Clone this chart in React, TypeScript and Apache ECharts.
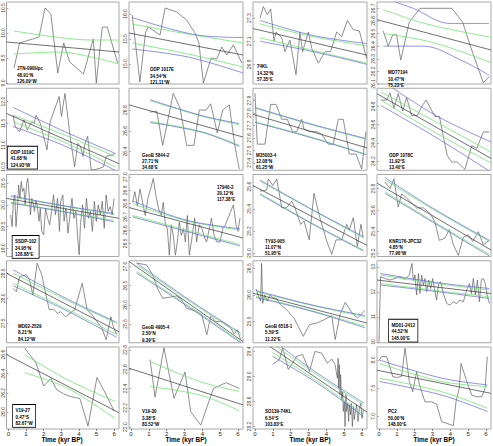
import { useEffect, useRef } from "react";
import * as echarts from "echarts";

const CHART_W = 493;
const CHART_H = 446;

// Site metadata, panel order left-to-right, top-to-bottom
const SITE_NAMES = ["JTN-090Hpc", "ODP 1017E", "74KL", "MD77194", "ODP 1019C", "GeoB 5844-2", "M35003-4", "ODP 1078C", "SSDP-102", "17940-2", "TY93-905", "KNR176-JPC32", "MD02-2529", "GeoB 4905-4", "GeoB 6518-1", "MD01-2412", "V19-27", "V19-30", "SO139-74KL", "PC2"];
const SITE_LATS = ["48.91°N", "34.54°N", "14.32°N", "10.47°N", "41.68°N", "27.71°N", "12.08°N", "11.92°S", "34.95°N", "20.12°N", "11.07°N", "4.85°N", "8.21°N", "2.50°N", "5.59°S", "44.52°N", "0.47°S", "3.38°S", "6.54°S", "50.00°N"];
const SITE_LONS = ["126.09°W", "121.11°W", "57.35°E", "75.23°E", "124.93°W", "34.68°E", "61.25°W", "13.40°E", "128.88°E", "117.38°E", "51.95°E", "77.96°W", "84.12°W", "9.39°E", "11.22°E", "145.00°E", "82.67°W", "83.52°W", "103.83°E", "148.00°E"];

const X_TICKS = [0, 1, 2, 3, 4, 5, 6];

// JTN-090Hpc
const T01 = [0.32, 0.63, 1.74, 2.08, 2.41, 2.8, 3.14, 3.48, 4.26, 4.82, 4.99, 5.33, 5.61, 6.2];
const V01 = [9.3, 9.8, 9.92, 10.5, 10.38, 9.2, 9.8, 9.42, 9.18, 9.88, 9.0, 10.12, 10.12, 9.4];
const R01 = [8.98, 10.62]; const K01 = [9.0, 9.5, 10.0, 10.5];
const F01 = [[-0.11, 9.82], [6.28, 9.62]];
const GU01 = [[0.3, 10.04], [2.9, 9.91], [4.7, 9.86], [6.28, 9.86]];
const GL01 = [[0.3, 9.58], [2.9, 9.62], [4.7, 9.52], [6.28, 9.38]];

// ODP 1017E
const T02 = [0.07, 0.5, 0.82, 0.97, 1.63, 1.91, 2.56, 3.12, 3.59, 3.81, 4.06, 4.49, 4.81, 5.09, 5.37, 5.74, 6.21];
const V02 = [15.98, 14.64, 15.64, 15.74, 15.58, 16.12, 16.04, 15.88, 15.62, 15.42, 14.62, 15.12, 15.1, 15.34, 15.18, 15.38, 15.02];
const R02 = [14.6, 16.24]; const K02 = [15.0, 15.5, 16.0];
const F02 = [[-0.11, 15.62], [6.28, 15.18]];
const GU02 = [[0.07, 15.8], [3.2, 15.6], [6.28, 15.42]];
const GL02 = [[0.07, 15.42], [3.2, 15.2], [6.28, 14.94]];
const BU02 = [[0.07, 15.93], [3.7, 15.58], [6.28, 15.53]];
const BL02 = [[0.07, 15.3], [3.2, 15.14], [6.28, 14.82]];

// 74KL
const T03 = [0.28, 0.47, 0.69, 0.88, 1.07, 1.18, 1.5, 1.68, 1.96, 2.3, 2.52, 2.67, 2.99, 3.18, 3.55, 3.93, 4.24, 4.58, 4.86, 5.18, 5.51, 5.85, 6.26];
const V03 = [27.3, 27.4, 27.33, 27.38, 27.1, 27.18, 27.13, 27.01, 27.11, 26.81, 27.18, 27.01, 27.18, 27.04, 26.91, 27.01, 27.01, 27.18, 27.14, 27.28, 27.2, 27.19, 26.95];
const R03 = [26.73, 27.44]; const K03 = [26.9, 27.1, 27.3];
const F03 = [[-0.11, 27.21], [6.28, 26.98]];
const GU03 = [[0.28, 27.25], [3.27, 27.14], [6.28, 27.06]];
const GL03 = [[0.28, 27.13], [3.27, 27.02], [6.28, 26.91]];
const BU03 = [[0.28, 27.28], [3.27, 27.15], [6.28, 27.08]];
const BL03 = [[0.28, 27.1], [3.27, 27.01], [6.28, 26.9]];

// MD77194
const T04 = [0.24, 0.52, 0.77, 0.99, 1.22, 1.7, 2.3, 4.08, 4.69, 5.1, 5.85, 6.19];
const V04 = [26.52, 26.4, 26.49, 26.49, 26.29, 26.59, 26.7, 26.7, 26.59, 26.41, 26.11, 26.16];
const R04 = [26.1, 26.75]; const K04 = [26.1, 26.2, 26.3, 26.4, 26.5, 26.6, 26.7];
const F04 = [[-0.11, 26.61], [6.28, 26.37]];
const GU04 = [[0.24, 26.69], [2.3, 26.59], [4.1, 26.53], [6.28, 26.47]];
const GL04 = [[0.24, 26.5], [3.0, 26.43], [6.28, 26.27]];
const BU04 = [[0.24, 26.82], [0.8, 26.76], [1.92, 26.7], [3.98, 26.58], [6.17, 26.58]];
const BL04 = [[0.24, 26.4], [2.48, 26.4], [4.73, 26.28], [6.17, 26.17]];

// ODP 1019C
const T05 = [0.26, 0.39, 0.63, 0.88, 1.07, 1.33, 1.47, 1.57, 1.81, 2.19, 2.37, 2.88, 3.01, 3.21, 3.53, 3.76, 3.94, 4.09, 4.24, 4.32, 4.5, 4.62, 4.69, 4.88, 5.22, 5.4, 5.55, 5.87, 6.06];
const V05 = [11.69, 11.43, 11.31, 11.58, 11.35, 11.54, 11.5, 11.69, 11.5, 10.89, 11.54, 12.12, 11.66, 12.19, 11.12, 10.5, 11.04, 10.97, 10.74, 11.0, 11.2, 10.74, 10.44, 10.43, 10.47, 10.5, 10.74, 10.77, 10.81];
const R05 = [10.42, 12.31]; const K05 = [10.5, 11.0, 11.5, 12.0];
const F05 = [[-0.11, 11.73], [6.28, 10.57]];
const GU05 = [[0.26, 11.69], [3.2, 11.23], [6.06, 10.74]];
const GL05 = [[0.26, 11.54], [3.2, 11.06], [6.06, 10.5]];
const BU05 = [[0.26, 11.87], [3.2, 11.31], [6.06, 10.81]];
const BL05 = [[0.26, 11.43], [3.2, 10.98], [6.06, 10.42]];

// GeoB 5844-2
const T06 = [1.07, 1.44, 1.78, 2.37, 2.75, 3.12, 3.53, 3.83, 4.21, 4.47, 4.84, 5.14, 5.51, 5.83, 6.07];
const V06 = [26.78, 26.79, 26.46, 26.96, 26.82, 26.46, 26.46, 26.8, 26.8, 26.86, 26.58, 26.8, 26.85, 26.45, 26.23];
const R06 = [26.22, 27.01]; const K06 = [26.4, 26.6, 26.8];
const F06 = [[-0.11, 26.85], [6.28, 26.54]];
const GU06 = [[1.07, 26.89], [4.0, 26.74], [6.07, 26.66]];
const GL06 = [[1.07, 26.69], [4.0, 26.59], [6.07, 26.46]];
const BU06 = [[1.07, 26.9], [4.0, 26.745], [6.07, 26.67]];
const BL06 = [[1.07, 26.68], [4.0, 26.585], [6.07, 26.45]];

// M35003-4
const T07 = [0.0, 0.13, 0.56, 0.88, 1.18, 1.5, 1.81, 2.11, 2.34, 2.62, 2.75, 3.08, 3.46, 3.74, 4.11, 4.39, 4.67, 4.95, 5.29, 5.66, 5.98, 6.22];
const V07 = [27.96, 27.55, 27.55, 27.87, 27.87, 27.75, 27.75, 27.65, 27.65, 27.75, 27.67, 27.65, 27.65, 27.63, 27.55, 27.55, 27.75, 27.75, 27.47, 27.47, 27.35, 27.65];
const R07 = [27.34, 28.0]; const K07 = [27.4, 27.5, 27.6, 27.7, 27.8, 27.9];
const F07 = [[-0.11, 27.79], [6.28, 27.52]];
const GU07 = [[0.0, 27.84], [3.08, 27.71], [6.22, 27.59]];
const GL07 = [[0.0, 27.73], [3.08, 27.61], [6.22, 27.47]];
const BU07 = [[0.0, 27.845], [3.08, 27.715], [6.22, 27.595]];
const BL07 = [[0.0, 27.725], [3.08, 27.605], [6.22, 27.465]];

// ODP 1078C
const T08 = [0.11, 0.43, 0.62, 0.84, 1.08, 1.33, 1.55, 1.83, 2.15, 2.4, 2.64, 3.14, 3.39, 3.65, 3.83, 4.08, 4.39, 4.82, 5.2, 5.48, 5.85, 6.19];
const V08 = [24.87, 24.87, 24.95, 24.78, 24.94, 24.75, 24.9, 24.7, 24.7, 24.8, 24.87, 24.69, 24.69, 24.43, 24.26, 24.19, 24.19, 24.11, 24.37, 24.34, 24.52, 24.52];
const R08 = [24.1, 25.0]; const K08 = [24.2, 24.4, 24.6, 24.8];
const F08 = [[-0.11, 24.94], [6.28, 24.23]];
const GU08 = [[0.11, 24.96], [3.1, 24.64], [6.28, 24.3]];
const GL08 = [[0.11, 24.87], [3.1, 24.52], [6.28, 24.18]];
const BU08 = [[0.11, 25.09], [3.2, 24.7], [6.28, 24.41]];
const BL08 = [[0.11, 24.81], [3.2, 24.46], [6.28, 24.08]];

// SSDP-102
const T09 = [0.13, 0.21, 0.28, 0.36, 0.43, 0.51, 0.58, 0.65, 0.73, 0.8, 0.88, 0.95, 1.03, 1.1, 1.18, 1.25, 1.33, 1.4, 1.48, 1.55, 1.63, 1.74, 1.81, 1.89, 2.0, 2.11, 2.23, 2.34, 2.45, 2.56, 2.67, 2.79, 2.9, 2.97, 3.09, 3.16, 3.27, 3.38, 3.5, 3.61, 3.72, 3.83, 3.95, 4.02, 4.09, 4.21, 4.32, 4.43, 4.54, 4.66, 4.77, 4.88, 4.99, 5.1, 5.22, 5.33, 5.44, 5.55, 5.67, 5.78, 5.89, 6.0];
const V09 = [19.77, 19.5, 20.08, 20.23, 19.5, 19.92, 20.46, 20.15, 20.54, 20.31, 20.38, 20.0, 20.5, 20.61, 20.23, 19.77, 20.15, 20.04, 19.85, 20.11, 20.0, 19.62, 19.92, 19.39, 19.31, 19.92, 19.69, 19.54, 19.85, 20.23, 19.77, 20.15, 19.39, 20.08, 20.23, 19.62, 19.92, 19.35, 19.77, 20.15, 19.69, 19.85, 19.16, 18.85, 19.54, 20.0, 19.46, 20.15, 19.69, 19.85, 19.39, 20.08, 19.62, 20.0, 19.77, 20.08, 19.46, 20.23, 19.85, 19.96, 19.77, 20.15];
const R09 = [18.81, 20.7]; const K09 = [19.0, 19.5, 20.0, 20.5];
const F09 = [[-0.11, 20.15], [6.28, 19.69]];
const GU09 = [[0.13, 20.19], [3.0, 19.98], [6.0, 19.78]];
const GL09 = [[0.13, 20.06], [3.0, 19.86], [6.0, 19.64]];
const BU09 = [[0.13, 20.21], [3.0, 19.99], [6.0, 19.8]];
const BL09 = [[0.13, 20.04], [3.0, 19.85], [6.0, 19.61]];

// 17940-2
const T10 = [0.09, 0.22, 0.36, 0.51, 0.65, 0.8, 0.95, 1.1, 1.25, 1.4, 1.55, 1.7, 1.81, 1.93, 2.04, 2.15, 2.26, 2.37, 2.49, 2.6, 2.71, 2.82, 2.94, 3.05, 3.16, 3.27, 3.42, 3.57, 3.68, 3.83, 3.98, 4.13, 4.24, 4.39, 4.51, 4.66, 4.81, 4.99, 5.14, 5.29, 5.44, 5.59, 5.74, 5.89, 6.0, 6.11];
const V10 = [26.81, 26.89, 26.78, 26.91, 26.81, 26.71, 26.84, 26.91, 26.99, 26.86, 26.76, 26.71, 26.81, 26.64, 26.61, 26.41, 26.64, 26.56, 26.41, 26.51, 26.66, 26.56, 26.61, 26.51, 26.71, 26.41, 26.54, 26.69, 26.51, 26.64, 26.61, 26.54, 26.51, 26.61, 26.69, 26.56, 26.51, 26.51, 26.61, 26.64, 26.69, 26.74, 26.79, 26.64, 26.59, 26.69];
const R10 = [26.4, 27.02]; const K10 = [26.5, 26.6, 26.7, 26.8, 26.9, 27.0];
const F10 = [[-0.11, 26.77], [6.28, 26.54]];
const GU10 = [[0.09, 26.8], [3.1, 26.67], [6.11, 26.6]];
const GL10 = [[0.09, 26.71], [3.1, 26.6], [6.11, 26.49]];
const BU10 = [[0.09, 26.82], [3.1, 26.675], [6.11, 26.61]];
const BL10 = [[0.09, 26.7], [3.1, 26.59], [6.11, 26.48]];

// TY93-905
const T11 = [0.28, 0.66, 0.75, 1.0, 1.22, 1.5, 1.78, 2.06, 2.24, 2.56, 2.75, 3.04, 3.31, 3.64, 4.02, 4.3, 4.54, 4.86, 5.14, 5.29, 5.51, 5.74, 5.94, 6.07];
const V11 = [25.56, 25.57, 25.67, 25.61, 25.67, 25.41, 25.41, 25.47, 25.41, 25.26, 25.29, 25.12, 25.54, 25.32, 25.11, 24.99, 25.12, 25.12, 25.26, 25.21, 25.32, 25.06, 25.26, 25.14];
const R11 = [24.97, 25.71]; const K11 = [25.0, 25.2, 25.4, 25.6];
const F11 = [[-0.11, 25.61], [6.28, 25.07]];
const GU11 = [[0.28, 25.65], [3.2, 25.39], [6.07, 25.14]];
const GL11 = [[0.28, 25.54], [3.2, 25.27], [6.07, 25.03]];
const BU11 = [[0.28, 25.66], [3.2, 25.395], [6.07, 25.15]];
const BL11 = [[0.28, 25.53], [3.2, 25.265], [6.07, 25.02]];

// KNR176-JPC32
const T12 = [0.34, 0.62, 0.84, 1.08, 1.27, 1.51, 1.74, 2.11, 2.49, 2.86, 3.14, 3.38, 3.7, 3.94, 4.17, 4.45, 4.73, 5.01, 5.25, 5.57, 5.85, 6.19];
const V12 = [25.86, 25.8, 25.89, 25.63, 25.75, 25.72, 25.68, 25.62, 25.62, 25.57, 25.49, 25.32, 25.34, 25.42, 25.28, 25.18, 25.35, 25.37, 25.31, 25.4, 25.28, 25.32];
const R12 = [25.17, 25.93]; const K12 = [25.2, 25.4, 25.6, 25.8];
const F12 = [[-0.11, 25.85], [6.28, 25.23]];
const GU12 = [[0.34, 25.88], [3.2, 25.59], [6.19, 25.31]];
const GL12 = [[0.34, 25.77], [3.2, 25.48], [6.19, 25.19]];
const BU12 = [[0.34, 25.9], [3.2, 25.6], [6.19, 25.32]];
const BL12 = [[0.34, 25.755], [3.2, 25.47], [6.19, 25.175]];

// MD02-2529
const T13 = [0.26, 0.45, 0.63, 1.01, 1.19, 1.39, 1.63, 1.89, 2.13, 2.32, 2.56, 2.79, 2.97, 3.25, 3.49, 3.76, 4.19, 4.47, 4.75, 5.03, 5.31, 5.55, 5.82, 5.96, 6.15];
const V13 = [28.2, 28.13, 28.43, 28.47, 28.37, 28.07, 28.7, 28.47, 28.07, 27.77, 27.78, 27.7, 27.73, 27.63, 27.7, 27.77, 28.3, 27.77, 27.67, 27.53, 27.4, 27.17, 27.63, 27.43, 27.27];
const R13 = [27.11, 28.75]; const K13 = [27.5, 28.0, 28.5];
const F13 = [[-0.11, 28.5], [6.28, 27.33]];
const GU13 = [[0.26, 28.5], [3.2, 27.98], [6.15, 27.5]];
const GL13 = [[0.26, 28.3], [3.2, 27.8], [6.15, 27.27]];
const BU13 = [[0.26, 28.57], [3.2, 28.01], [6.15, 27.52]];
const BL13 = [[0.26, 28.25], [3.2, 27.77], [6.15, 27.22]];

// GeoB 4905-4
const T14 = [0.32, 0.88, 1.22, 1.48, 1.78, 2.19, 2.56, 2.84, 3.12, 3.4, 3.68, 3.97, 4.25, 4.47, 4.77, 5.09, 5.37, 5.59, 5.78, 5.96, 6.15];
const V14 = [27.09, 27.04, 26.78, 26.43, 26.17, 26.2, 26.23, 26.13, 25.91, 25.87, 25.83, 25.74, 25.22, 25.7, 25.56, 25.56, 25.48, 25.39, 25.24, 25.35, 25.09];
const R14 = [25.01, 27.15]; const K14 = [25.5, 26.0, 26.5, 27.0];
const F14 = [[-0.11, 27.13], [6.28, 25.04]];
const GU14 = [[0.32, 27.04], [3.2, 26.12], [6.15, 25.22]];
const GL14 = [[0.32, 26.87], [3.2, 25.98], [6.15, 25.04]];
const BU14 = [[0.32, 27.09], [3.2, 26.15], [6.15, 25.26]];
const BL14 = [[0.32, 26.83], [3.2, 25.95], [6.15, 25.01]];

// GeoB 6518-1
const T15 = [0.06, 0.21, 0.32, 0.37, 0.43, 0.54, 0.69, 0.84, 0.99, 1.18, 1.44, 1.78, 2.19, 2.71, 3.05, 3.46, 3.87, 4.3, 4.5, 4.77, 5.06, 5.42, 5.74, 6.17];
const V15 = [26.11, 25.96, 25.88, 26.59, 25.84, 26.0, 25.88, 26.0, 25.94, 25.94, 25.81, 25.72, 25.56, 25.22, 25.44, 25.47, 25.53, 25.61, 25.16, 25.63, 25.86, 25.67, 25.56, 25.71];
const R15 = [25.1, 26.64]; const K15 = [25.5, 26.0, 26.5];
const F15 = [[-0.11, 26.03], [6.28, 25.47]];
const GU15 = [[0.06, 26.06], [3.2, 25.8], [6.17, 25.59]];
const GL15 = [[0.06, 25.97], [3.2, 25.7], [6.17, 25.41]];
const BU15 = [[0.06, 26.08], [3.2, 25.81], [6.17, 25.61]];
const BL15 = [[0.06, 25.95], [3.2, 25.69], [6.17, 25.38]];

// MD01-2412
const T16 = [0.0, 0.09, 0.34, 0.62, 0.9, 1.18, 1.46, 1.7, 1.85, 1.93, 2.02, 2.11, 2.21, 2.3, 2.39, 2.49, 2.58, 2.67, 2.79, 2.9, 3.01, 3.12, 3.23, 3.35, 3.46, 3.61, 3.8, 3.98, 4.17, 4.36, 4.54, 4.73, 4.92, 5.07, 5.18, 5.29, 5.4, 5.52, 5.63, 5.74, 5.85, 5.96, 6.08, 6.19];
const V16 = [10.0, 12.6, 12.53, 12.47, 12.53, 12.6, 12.49, 12.67, 13.13, 12.44, 12.67, 11.87, 12.73, 11.93, 12.67, 12.27, 12.53, 12.0, 12.47, 12.13, 12.53, 12.07, 11.67, 12.33, 12.4, 11.93, 11.53, 11.47, 11.6, 11.53, 11.67, 11.6, 12.07, 12.33, 11.93, 12.53, 11.87, 12.47, 11.6, 12.49, 12.53, 12.33, 11.8, 11.53];
const R16 = [9.96, 13.24]; const K16 = [10, 11, 12, 13];
const F16 = [[-0.11, 12.47], [6.28, 11.93]];
const GU16 = [[0.09, 12.67], [3.2, 12.33], [6.19, 12.07]];
const GL16 = [[0.09, 12.33], [3.2, 12.05], [6.19, 11.8]];
const BU16 = [[0.09, 12.73], [3.2, 12.37], [6.19, 12.13]];
const BL16 = [[0.09, 12.27], [3.2, 12.01], [6.19, 11.73]];

// V19-27
const T17 = [0.92, 1.57, 2.0, 2.41, 2.75, 3.12, 3.53, 4.06, 4.52, 5.03, 5.55, 6.0];
const V17 = [26.67, 26.51, 26.27, 26.35, 26.23, 26.19, 26.16, 26.14, 25.85, 26.36, 26.18, 26.01];
const R17 = [25.82, 26.68]; const K17 = [26.0, 26.2, 26.4, 26.6];
const F17 = [[-0.11, 26.6], [6.28, 25.99]];
const GU17 = [[0.92, 26.6], [3.33, 26.34], [6.05, 26.11]];
const GL17 = [[0.92, 26.41], [3.33, 26.25], [6.05, 25.93]];

// V19-30
const T18 = [1.07, 1.35, 1.85, 2.41, 3.03, 3.35, 3.91, 4.62, 5.33, 6.07];
const V18 = [22.7, 22.31, 22.82, 22.3, 22.57, 22.16, 22.02, 22.4, 22.46, 22.4];
const R18 = [21.98, 22.83]; const K18 = [22.0, 22.2, 22.4, 22.6, 22.8];
const F18 = [[-0.11, 22.61], [6.28, 22.23]];
const GU18 = [[1.07, 22.68], [3.9, 22.47], [6.07, 22.37]];
const GL18 = [[1.07, 22.42], [3.9, 22.33], [6.07, 22.17]];

// SO139-74KL
const T19 = [0.99, 1.37, 1.55, 1.87, 2.34, 2.67, 3.05, 3.37, 3.74, 4.06, 4.3, 4.49, 4.62, 4.66, 4.69, 4.73, 4.77, 4.8, 4.86, 4.92, 4.95, 5.01, 5.05, 5.1, 5.14, 5.2, 5.25, 5.29, 5.35, 5.4, 5.46, 5.52, 5.57, 5.63, 5.7, 5.78, 5.85, 5.93, 6.0, 6.08];
const V19 = [29.19, 29.27, 29.45, 29.11, 29.32, 29.35, 29.08, 29.4, 29.37, 29.21, 29.28, 29.19, 28.97, 29.29, 28.81, 29.19, 28.71, 29.03, 28.63, 28.76, 28.44, 28.6, 28.2, 28.71, 28.44, 28.57, 28.28, 28.55, 28.39, 28.57, 28.2, 28.52, 28.31, 28.44, 28.55, 28.28, 28.49, 28.57, 28.33, 28.47];
const R19 = [28.16, 29.47]; const K19 = [28.2, 28.6, 29.0, 29.4];
const F19 = [[-0.11, 29.66], [6.28, 28.43]];
const GU19 = [[0.99, 29.52], [3.4, 29.04], [6.08, 28.55]];
const GL19 = [[0.99, 29.38], [3.4, 28.94], [6.08, 28.39]];
const BU19 = [[0.99, 29.58], [3.4, 29.07], [6.08, 28.58]];
const BL19 = [[0.99, 29.32], [3.4, 28.91], [6.08, 28.36]];

// PC2
const T20 = [0.02, 0.15, 0.43, 0.77, 0.99, 1.27, 1.46, 1.7, 1.89, 2.11, 2.3, 2.58, 2.96, 3.23, 3.51, 4.17, 4.32, 4.5, 4.6, 4.92, 5.2, 5.48, 5.76, 5.95, 6.07];
const V20 = [8.0, 8.06, 8.06, 7.71, 7.69, 7.71, 8.21, 7.62, 7.44, 7.79, 7.53, 7.26, 7.26, 7.22, 6.91, 6.84, 7.26, 7.5, 7.94, 7.62, 7.38, 7.35, 7.35, 7.5, 8.06];
const R20 = [6.78, 8.23]; const K20 = [7.0, 7.5, 8.0];
const F20 = [[-0.11, 7.82], [6.28, 7.41]];
const GU20 = [[0.02, 7.94], [3.51, 7.62], [6.07, 7.53]];
const GL20 = [[0.02, 7.68], [3.51, 7.44], [6.07, 7.15]];
const BU20 = [[0.02, 8.0], [3.51, 7.68], [6.07, 7.56]];
const BL20 = [[0.02, 7.62], [3.51, 7.38], [6.07, 7.09]];

type Pts = number[][];
interface Panel {
  time: number[]; sst: number[]; range: number[]; ticks: number[];
  fit: Pts; gUp: Pts; gLo: Pts; bUp?: Pts; bLo?: Pts;
}

const PANELS: Panel[] = [
  { time: T01, sst: V01, range: R01, ticks: K01, fit: F01, gUp: GU01, gLo: GL01 },
  { time: T02, sst: V02, range: R02, ticks: K02, fit: F02, gUp: GU02, gLo: GL02, bUp: BU02, bLo: BL02 },
  { time: T03, sst: V03, range: R03, ticks: K03, fit: F03, gUp: GU03, gLo: GL03, bUp: BU03, bLo: BL03 },
  { time: T04, sst: V04, range: R04, ticks: K04, fit: F04, gUp: GU04, gLo: GL04, bUp: BU04, bLo: BL04 },
  { time: T05, sst: V05, range: R05, ticks: K05, fit: F05, gUp: GU05, gLo: GL05, bUp: BU05, bLo: BL05 },
  { time: T06, sst: V06, range: R06, ticks: K06, fit: F06, gUp: GU06, gLo: GL06, bUp: BU06, bLo: BL06 },
  { time: T07, sst: V07, range: R07, ticks: K07, fit: F07, gUp: GU07, gLo: GL07, bUp: BU07, bLo: BL07 },
  { time: T08, sst: V08, range: R08, ticks: K08, fit: F08, gUp: GU08, gLo: GL08, bUp: BU08, bLo: BL08 },
  { time: T09, sst: V09, range: R09, ticks: K09, fit: F09, gUp: GU09, gLo: GL09, bUp: BU09, bLo: BL09 },
  { time: T10, sst: V10, range: R10, ticks: K10, fit: F10, gUp: GU10, gLo: GL10, bUp: BU10, bLo: BL10 },
  { time: T11, sst: V11, range: R11, ticks: K11, fit: F11, gUp: GU11, gLo: GL11, bUp: BU11, bLo: BL11 },
  { time: T12, sst: V12, range: R12, ticks: K12, fit: F12, gUp: GU12, gLo: GL12, bUp: BU12, bLo: BL12 },
  { time: T13, sst: V13, range: R13, ticks: K13, fit: F13, gUp: GU13, gLo: GL13, bUp: BU13, bLo: BL13 },
  { time: T14, sst: V14, range: R14, ticks: K14, fit: F14, gUp: GU14, gLo: GL14, bUp: BU14, bLo: BL14 },
  { time: T15, sst: V15, range: R15, ticks: K15, fit: F15, gUp: GU15, gLo: GL15, bUp: BU15, bLo: BL15 },
  { time: T16, sst: V16, range: R16, ticks: K16, fit: F16, gUp: GU16, gLo: GL16, bUp: BU16, bLo: BL16 },
  { time: T17, sst: V17, range: R17, ticks: K17, fit: F17, gUp: GU17, gLo: GL17 },
  { time: T18, sst: V18, range: R18, ticks: K18, fit: F18, gUp: GU18, gLo: GL18 },
  { time: T19, sst: V19, range: R19, ticks: K19, fit: F19, gUp: GU19, gLo: GL19, bUp: BU19, bLo: BL19 },
  { time: T20, sst: V20, range: R20, ticks: K20, fit: F20, gUp: GU20, gLo: GL20, bUp: BU20, bLo: BL20 },
];

// Panel grid layout (pixels)
const COL_X0 = 5, COL_STEP = 124, PANEL_W = 114;
const ROW_Y0 = 2, ROW_STEP = 86.25, PANEL_H = 82;
const X_MIN = -0.11, X_MAX = 6.28;

// Site-label placement inside each panel: [dx, dy, boxed]
const LABEL_POS: [number, number, boolean][] = [
  [12, 63, false], [21, 64, false], [4, 61, false], [11, 67, false],
  [3, 58.5, true], [13, 63, false], [3, 63, false], [12, 63, false],
  [7.5, 61.5, true], [88, 9, false], [12, 63, false], [12, 63, false],
  [13, 62, false], [13, 63, false], [12, 62, false], [12, 59, true],
  [8, 58, true], [13, 61, false], [12, 61, false], [11, 61, false],
];

const FONT = '"Liberation Sans", Arial, Helvetica, sans-serif';
const C_DATA = "#5e5e5e";
const C_FIT = "#333333";
const C_GREEN = "#6ee46e";
const C_BLUE = "#6262e0";

function buildOption() {
  const grid: any[] = [];
  const xAxis: any[] = [];
  const yAxis: any[] = [];
  const series: any[] = [];
  const graphic: any[] = [];

  PANELS.forEach((p, i) => {
    const r = Math.floor(i / 4);
    const c = i % 4;
    const left = COL_X0 + c * COL_STEP;
    const top = ROW_Y0 + r * ROW_STEP;
    const bottomRow = r === 4;
    const intTicks = p.ticks.every((v) => Number.isInteger(v));

    grid.push({
      left, top, width: PANEL_W, height: PANEL_H,
      show: true, borderColor: "#a8a8a8", borderWidth: 1,
    });
    xAxis.push({
      type: "value", gridIndex: i, min: X_MIN, max: X_MAX,
      axisLine: { show: false }, splitLine: { show: false },
      axisTick: { show: bottomRow, length: 2, customValues: X_TICKS, lineStyle: { color: "#555", width: 0.7 } },
      axisLabel: { show: bottomRow, customValues: X_TICKS, fontSize: 6, margin: 1.5, color: "#222", fontFamily: FONT },
    });
    yAxis.push({
      type: "value", gridIndex: i, min: p.range[0], max: p.range[1],
      axisLine: { show: false }, splitLine: { show: false },
      axisTick: { show: true, length: 1.5, customValues: p.ticks, lineStyle: { color: "#666", width: 0.6 } },
      axisLabel: {
        customValues: p.ticks, rotate: 90, fontSize: 5, margin: 1.5, color: "#444", fontFamily: FONT,
        formatter: (v: number) => (intTicks ? String(Math.round(v)) : v.toFixed(1)),
      },
    });

    const line = (data: Pts, color: string, width: number, smooth: number | boolean, z: number) => ({
      type: "line", xAxisIndex: i, yAxisIndex: i, data, symbol: "none", showSymbol: false,
      smooth, silent: true, z, lineStyle: { color, width }, clip: true,
    });

    series.push(line(p.time.map((t, k) => [t, p.sst[k]]), C_DATA, 0.7, false, 2));
    series.push(line(p.gUp, C_GREEN, 0.8, 0.35, 3));
    series.push(line(p.gLo, C_GREEN, 0.8, 0.35, 3));
    if (p.bUp && p.bLo) {
      series.push(line(p.bUp, C_BLUE, 0.7, 0.35, 4));
      series.push(line(p.bLo, C_BLUE, 0.7, 0.35, 4));
    }
    series.push(line(p.fit, C_FIT, 0.7, false, 5));

    const [dx, dy, boxed] = LABEL_POS[i];
    graphic.push({
      type: "text", x: left + dx, y: top + dy, scaleX: 0.82, z: 100,
      style: {
        text: `${SITE_NAMES[i]}\n${SITE_LATS[i]}\n${SITE_LONS[i]}`,
        fill: "#000", font: `bold 5.5px ${FONT}`, lineHeight: 6.3,
        textAlign: "left", verticalAlign: "top",
        ...(boxed ? { borderColor: "#000", borderWidth: 0.9, padding: [2, 3, 1, 3], backgroundColor: "#fff" } : {}),
      },
    });

    if (bottomRow) {
      graphic.push({
        type: "text", x: left + PANEL_W / 2, y: 439.5, scaleX: 0.8, z: 100,
        style: {
          text: "Time (kyr BP)", fill: "#000", font: `bold 8px ${FONT}`,
          textAlign: "center", verticalAlign: "middle",
        },
      });
    }
  });

  return { animation: false, backgroundColor: "#ffffff", grid, xAxis, yAxis, series, graphic };
}

export default function App() {
  const ref = useRef<HTMLDivElement>(null);
  useEffect(() => {
    if (!ref.current) return;
    const chart = echarts.init(ref.current, undefined, { renderer: "svg" });
    chart.setOption(buildOption() as any);
    return () => chart.dispose();
  }, []);
  return (
    <div
      ref={ref}
      style={{ position: "fixed", left: 0, top: 0, width: CHART_W, height: CHART_H, background: "#fff" }}
    />
  );
}
